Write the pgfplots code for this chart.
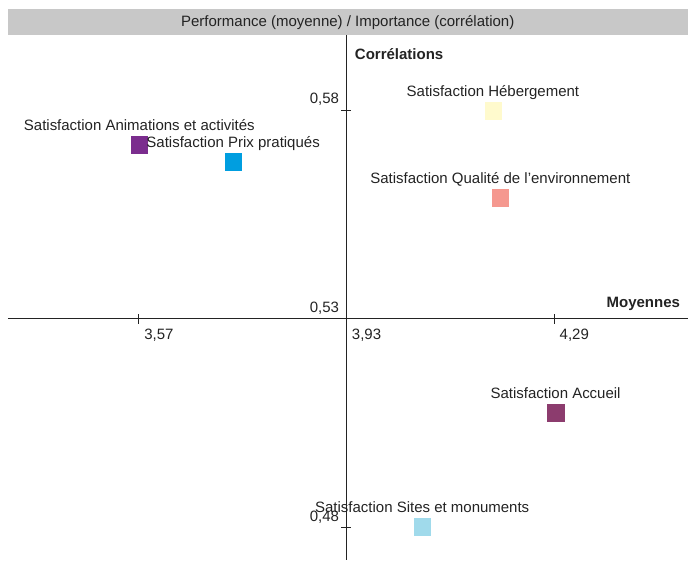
\documentclass[border=0pt]{standalone}
\usepackage{fontspec}
\setmainfont{Liberation Sans}
\usepackage{pgfplots}
\pgfplotsset{compat=1.18}

\definecolor{cAnim}{RGB}{123,45,142}
\definecolor{cPrix}{RGB}{0,158,224}
\definecolor{cHeb}{RGB}{255,250,205}
\definecolor{cQual}{RGB}{245,152,143}
\definecolor{cAcc}{RGB}{140,60,110}
\definecolor{cSites}{RGB}{160,218,235}
\definecolor{barbg}{RGB}{200,200,200}
\definecolor{txt}{RGB}{35,35,35}

\newcommand{\fs}{\fontsize{15}{18}\selectfont}

\pgfplotsset{
  pt/.style={only marks, mark=square*, mark size=8.25pt,
    point meta=explicit symbolic, nodes near coords,
    nodes near coords style={text=txt, anchor=base, yshift=14pt, font=\fs}},
}

\begin{document}
\begin{tikzpicture}
\begin{axis}[
    width=680pt, height=525pt, scale only axis,
    xmin=3.3434, xmax=4.5211,
    ymin=0.4723, ymax=0.598,
    axis lines=middle,
    axis x line shift=-241pt, axis y line shift=-338.7pt,
    axis line style={-, txt, line width=1pt},
    hide obscured x ticks=false, hide obscured y ticks=false,
    xtick={3.57,3.93,4.29}, ytick={0.48,0.53,0.58},
    tick align=center, major tick length=10pt,
    tick style={txt, line width=0.8pt},
    /pgf/number format/.cd, fixed, fixed zerofill, precision=2, use comma, assume math mode=true,
    /pgfplots/.cd,
    ticklabel style={font=\fs, text=txt},
    xticklabel style={anchor=north west, xshift=2pt, yshift=-2pt},
    yticklabel style={anchor=south east, xshift=1pt, yshift=1pt},
    clip=false,
]
\fill[barbg] (rel axis cs:0,1) rectangle ([yshift=25.5pt]rel axis cs:1,1);
\node[text=txt, font=\fs] at ([yshift=12.75pt]rel axis cs:0.5,1) {Performance (moyenne) / Importance (corrélation)};
\path ([xshift=-8pt, yshift=35pt]rel axis cs:0,1);

\node[anchor=base west, font=\fs\bfseries, text=txt] at ([xshift=5pt, yshift=-25pt]axis cs:3.93,0.598) {Corrélations};
\node[anchor=base east, font=\fs\bfseries, text=txt] at ([xshift=-4pt, yshift=11pt]axis cs:4.5211,0.53) {Moyennes};

\addplot[pt, color=cAnim] coordinates {(3.571,0.5717) [Satisfaction Animations et activités]};
\addplot[pt, color=cPrix] coordinates {(3.7336,0.5676) [Satisfaction Prix pratiqués]};
\addplot[pt, color=cHeb] coordinates {(4.1839,0.5799) [Satisfaction Hébergement]};
\addplot[pt, color=cQual] coordinates {(4.1967,0.5590) [Satisfaction Qualité de l'environnement]};
\addplot[pt, color=cAcc] coordinates {(4.2925,0.5075) [Satisfaction Accueil]};
\addplot[pt, color=cSites] coordinates {(4.0613,0.4802) [Satisfaction Sites et monuments]};
\end{axis}
\end{tikzpicture}
\end{document}
